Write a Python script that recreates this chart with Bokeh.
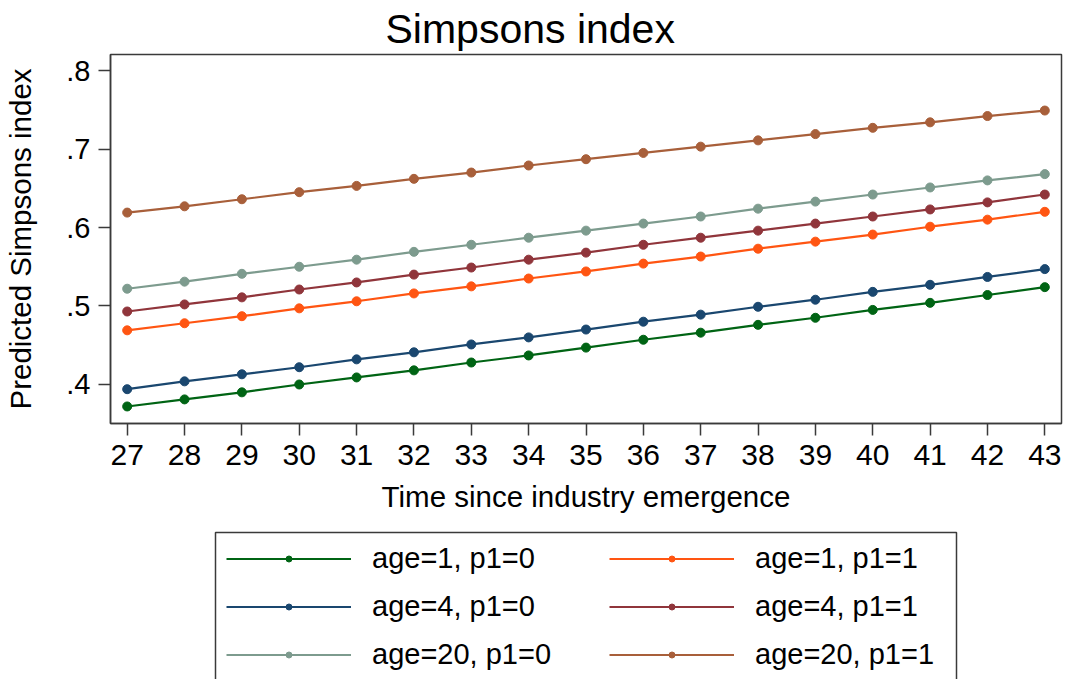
from bokeh.plotting import figure
from bokeh.layouts import column
from bokeh.models import (FixedTicker, CustomJSTickFormatter, Legend, LegendItem,
                          Range1d, BoxAnnotation)
from bokeh.embed import file_html
from bokeh.resources import INLINE

# Time since industry emergence
years = list(range(27, 44))

# Predicted Simpsons index by age group and p1
age1_p0 = [0.372, 0.381, 0.390, 0.400, 0.409, 0.418, 0.428, 0.437, 0.447,
           0.457, 0.466, 0.476, 0.485, 0.495, 0.504, 0.514, 0.524]
age4_p0 = [0.394, 0.404, 0.413, 0.422, 0.432, 0.441, 0.451, 0.460, 0.470,
           0.480, 0.489, 0.499, 0.508, 0.518, 0.527, 0.537, 0.547]
age20_p0 = [0.522, 0.531, 0.541, 0.550, 0.559, 0.569, 0.578, 0.587, 0.596,
            0.605, 0.614, 0.624, 0.633, 0.642, 0.651, 0.660, 0.668]
age1_p1 = [0.469, 0.478, 0.487, 0.497, 0.506, 0.516, 0.525, 0.535, 0.544,
           0.554, 0.563, 0.573, 0.582, 0.591, 0.601, 0.610, 0.620]
age4_p1 = [0.493, 0.502, 0.511, 0.521, 0.530, 0.540, 0.549, 0.559, 0.568,
           0.578, 0.587, 0.596, 0.605, 0.614, 0.623, 0.632, 0.642]
age20_p1 = [0.619, 0.627, 0.636, 0.645, 0.653, 0.662, 0.670, 0.679, 0.687,
            0.695, 0.703, 0.711, 0.719, 0.727, 0.734, 0.742, 0.749]

series_labels = ["age=1, p1=0", "age=4, p1=0", "age=20, p1=0",
                 "age=1, p1=1", "age=4, p1=1", "age=20, p1=1"]
series_values = [age1_p0, age4_p0, age20_p0, age1_p1, age4_p1, age20_p1]
series_colors = ["#006414", "#1a476f", "#7d9b8e", "#ff5512", "#90353b", "#a85f3a"]

y_ticks = [0.4, 0.5, 0.6, 0.7, 0.8]

FONT = "Liberation Sans"
FRAME = "#3a3a3a"

# Main chart
p = figure(width=1066, height=525, output_backend="svg", toolbar_location=None,
           x_range=Range1d(26.709, 43.291), y_range=Range1d(0.3503, 0.8204),
           min_border_left=110, min_border_right=5, min_border_top=54,
           min_border_bottom=102, background_fill_color="white",
           border_fill_color="white")

p.grid.visible = False
p.outline_line_color = FRAME
p.outline_line_width = 1.5

p.title.text = "Simpsons index"
p.title.text_font = FONT
p.title.text_font_size = "41px"
p.title.text_font_style = "normal"
p.title.text_color = "black"
p.title.align = "left"
p.title.offset = 275
p.title.standoff = 6

for ax in (p.xaxis[0], p.yaxis[0]):
    ax.axis_line_color = FRAME
    ax.axis_line_width = 1.5
    ax.major_tick_line_color = FRAME
    ax.major_tick_line_width = 1.5
    ax.major_tick_out = 12
    ax.major_tick_in = 0
    ax.minor_tick_line_color = None
    ax.major_label_text_font = FONT
    ax.major_label_text_color = "black"
    ax.axis_label_text_font = FONT
    ax.axis_label_text_font_style = "normal"
    ax.axis_label_text_color = "black"

p.xaxis.ticker = FixedTicker(ticks=years)
p.xaxis.major_label_text_font_size = "30px"
p.xaxis.major_label_standoff = 9
p.xaxis.axis_label = "Time since industry emergence"
p.xaxis.axis_label_text_font_size = "29.5px"
p.xaxis.axis_label_standoff = 12

p.yaxis.ticker = FixedTicker(ticks=y_ticks)
p.yaxis.formatter = CustomJSTickFormatter(code="return tick.toFixed(1).replace(/^0/, '');")
p.yaxis.major_label_text_font_size = "29px"
p.yaxis.major_label_standoff = 8
p.yaxis.major_label_orientation = "horizontal"
p.yaxis.axis_label = "Predicted Simpsons index"
p.yaxis.axis_label_text_font_size = "29.5px"
p.yaxis.axis_label_standoff = 26

for vals, color in zip(series_values, series_colors):
    p.line(years, vals, line_color=color, line_width=2.2)
    p.scatter(years, vals, size=9, fill_color=color, line_color=color)

# Legend strip below the chart
lg = figure(width=1066, height=154, output_backend="svg", toolbar_location=None,
            x_range=Range1d(0, 1), y_range=Range1d(0, 1),
            x_axis_type=None, y_axis_type=None,
            min_border=0, min_border_left=0, min_border_right=0,
            min_border_top=0, min_border_bottom=0,
            outline_line_color=None, background_fill_color="white",
            border_fill_color="white")
lg.grid.visible = False

# Outer box around both legend columns (its lower edge runs past the page)
lg.add_layout(BoxAnnotation(left=105, right=846, top=147, bottom=-12,
                            left_units="screen", right_units="screen",
                            top_units="screen", bottom_units="screen",
                            fill_alpha=0, line_color=FRAME, line_width=1.5,
                            line_alpha=1.0))

items = []
for label, color in zip(series_labels, series_colors):
    ln = lg.line([-5, -4], [-5, -4], line_color=color, line_width=2.2)
    sc = lg.scatter([-5], [-5], size=9, fill_color=color, line_color=color)
    items.append(LegendItem(label=label, renderers=[ln, sc]))

legend_style = dict(orientation="vertical", border_line_color=None,
                    background_fill_alpha=0.0,
                    label_text_font=FONT, label_text_font_size="29px",
                    label_text_color="black", label_standoff=21,
                    glyph_width=125, glyph_height=15, spacing=15,
                    padding=11, margin=0)
lg.add_layout(Legend(items=items[:3], location=(116, 8), **legend_style), "center")
lg.add_layout(Legend(items=items[3:], location=(499, 8), **legend_style), "center")

layout = column(p, lg, spacing=0)
open("out.html", "w").write(file_html(layout, INLINE))
